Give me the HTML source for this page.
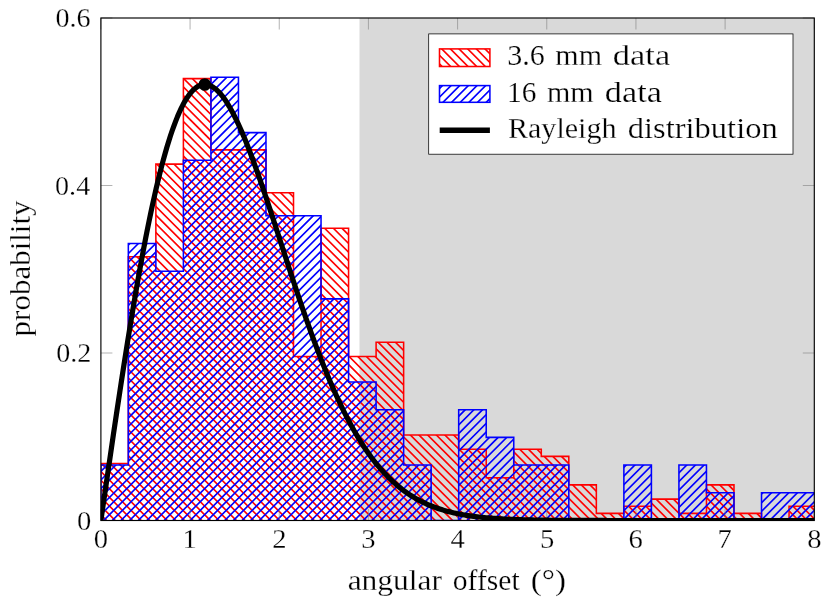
<!DOCTYPE html>
<html><head><meta charset="utf-8"><title>chart</title>
<style>html,body{margin:0;padding:0;background:#fff}svg{display:block;will-change:transform}text{font-family:"Liberation Serif",serif;fill:#000;stroke:#fff;stroke-width:0.25px}</style></head><body>
<svg width="831" height="607" viewBox="0 0 831 607">
<defs>
<clipPath id="cr"><path d="M100.80,520.50 L100.80,463.48 L128.33,463.48 L128.33,256.80 L155.86,256.80 L155.86,164.14 L183.39,164.14 L183.39,78.62 L210.92,78.62 L210.92,149.89 L238.45,149.89 L238.45,149.89 L265.98,149.89 L265.98,192.65 L293.51,192.65 L293.51,356.58 L321.04,356.58 L321.04,228.29 L348.57,228.29 L348.57,356.58 L376.10,356.58 L376.10,342.32 L403.63,342.32 L403.63,434.97 L431.16,434.97 L431.16,434.97 L458.69,434.97 L458.69,449.23 L486.22,449.23 L486.22,477.74 L513.75,477.74 L513.75,449.23 L541.28,449.23 L541.28,456.36 L568.81,456.36 L568.81,484.86 L596.34,484.86 L596.34,513.37 L623.87,513.37 L623.87,506.25 L651.40,506.25 L651.40,499.12 L678.93,499.12 L678.93,513.37 L706.46,513.37 L706.46,484.86 L733.99,484.86 L733.99,513.37 L761.52,513.37 L761.52,520.50 L789.05,520.50 L789.05,506.25 L816.58,506.25 L816.58,520.50Z"/></clipPath>
<clipPath id="cb"><path d="M100.80,520.50 L100.80,465.09 L128.33,465.09 L128.33,243.46 L155.86,243.46 L155.86,271.16 L183.39,271.16 L183.39,160.34 L210.92,160.34 L210.92,77.23 L238.45,77.23 L238.45,132.64 L265.98,132.64 L265.98,215.75 L293.51,215.75 L293.51,215.75 L321.04,215.75 L321.04,298.86 L348.57,298.86 L348.57,381.98 L376.10,381.98 L376.10,409.68 L403.63,409.68 L403.63,465.09 L431.16,465.09 L431.16,520.50 L458.69,520.50 L458.69,409.68 L486.22,409.68 L486.22,437.39 L513.75,437.39 L513.75,465.09 L541.28,465.09 L541.28,465.09 L568.81,465.09 L568.81,520.50 L596.34,520.50 L596.34,520.50 L623.87,520.50 L623.87,465.09 L651.40,465.09 L651.40,520.50 L678.93,520.50 L678.93,465.09 L706.46,465.09 L706.46,492.80 L733.99,492.80 L733.99,520.50 L761.52,520.50 L761.52,492.80 L789.05,492.80 L789.05,492.80 L816.58,492.80 L816.58,520.50Z"/></clipPath>
<clipPath id="cp"><rect x="100.90" y="18.00" width="713.40" height="502.50"/></clipPath>
</defs>
<rect width="831" height="607" fill="#fff"/>
<rect x="359.51" y="18.00" width="454.79" height="502.50" fill="#d9d9d9"/>
<g clip-path="url(#cp)">
<g clip-path="url(#cr)"><path d="M-406.55,16.00 L99.95,522.50 M-397.90,16.00 L108.60,522.50 M-389.25,16.00 L117.25,522.50 M-380.60,16.00 L125.90,522.50 M-371.95,16.00 L134.55,522.50 M-363.30,16.00 L143.20,522.50 M-354.65,16.00 L151.85,522.50 M-346.00,16.00 L160.50,522.50 M-337.35,16.00 L169.15,522.50 M-328.70,16.00 L177.80,522.50 M-320.05,16.00 L186.45,522.50 M-311.40,16.00 L195.10,522.50 M-302.75,16.00 L203.75,522.50 M-294.10,16.00 L212.40,522.50 M-285.45,16.00 L221.05,522.50 M-276.80,16.00 L229.70,522.50 M-268.15,16.00 L238.35,522.50 M-259.50,16.00 L247.00,522.50 M-250.85,16.00 L255.65,522.50 M-242.20,16.00 L264.30,522.50 M-233.55,16.00 L272.95,522.50 M-224.90,16.00 L281.60,522.50 M-216.25,16.00 L290.25,522.50 M-207.60,16.00 L298.90,522.50 M-198.95,16.00 L307.55,522.50 M-190.30,16.00 L316.20,522.50 M-181.65,16.00 L324.85,522.50 M-173.00,16.00 L333.50,522.50 M-164.35,16.00 L342.15,522.50 M-155.70,16.00 L350.80,522.50 M-147.05,16.00 L359.45,522.50 M-138.40,16.00 L368.10,522.50 M-129.75,16.00 L376.75,522.50 M-121.10,16.00 L385.40,522.50 M-112.45,16.00 L394.05,522.50 M-103.80,16.00 L402.70,522.50 M-95.15,16.00 L411.35,522.50 M-86.50,16.00 L420.00,522.50 M-77.85,16.00 L428.65,522.50 M-69.20,16.00 L437.30,522.50 M-60.55,16.00 L445.95,522.50 M-51.90,16.00 L454.60,522.50 M-43.25,16.00 L463.25,522.50 M-34.60,16.00 L471.90,522.50 M-25.95,16.00 L480.55,522.50 M-17.30,16.00 L489.20,522.50 M-8.65,16.00 L497.85,522.50 M-0.00,16.00 L506.50,522.50 M8.65,16.00 L515.15,522.50 M17.30,16.00 L523.80,522.50 M25.95,16.00 L532.45,522.50 M34.60,16.00 L541.10,522.50 M43.25,16.00 L549.75,522.50 M51.90,16.00 L558.40,522.50 M60.55,16.00 L567.05,522.50 M69.20,16.00 L575.70,522.50 M77.85,16.00 L584.35,522.50 M86.50,16.00 L593.00,522.50 M95.15,16.00 L601.65,522.50 M103.80,16.00 L610.30,522.50 M112.45,16.00 L618.95,522.50 M121.10,16.00 L627.60,522.50 M129.75,16.00 L636.25,522.50 M138.40,16.00 L644.90,522.50 M147.05,16.00 L653.55,522.50 M155.70,16.00 L662.20,522.50 M164.35,16.00 L670.85,522.50 M173.00,16.00 L679.50,522.50 M181.65,16.00 L688.15,522.50 M190.30,16.00 L696.80,522.50 M198.95,16.00 L705.45,522.50 M207.60,16.00 L714.10,522.50 M216.25,16.00 L722.75,522.50 M224.90,16.00 L731.40,522.50 M233.55,16.00 L740.05,522.50 M242.20,16.00 L748.70,522.50 M250.85,16.00 L757.35,522.50 M259.50,16.00 L766.00,522.50 M268.15,16.00 L774.65,522.50 M276.80,16.00 L783.30,522.50 M285.45,16.00 L791.95,522.50 M294.10,16.00 L800.60,522.50 M302.75,16.00 L809.25,522.50 M311.40,16.00 L817.90,522.50 M320.05,16.00 L826.55,522.50 M328.70,16.00 L835.20,522.50 M337.35,16.00 L843.85,522.50 M346.00,16.00 L852.50,522.50 M354.65,16.00 L861.15,522.50 M363.30,16.00 L869.80,522.50 M371.95,16.00 L878.45,522.50 M380.60,16.00 L887.10,522.50 M389.25,16.00 L895.75,522.50 M397.90,16.00 L904.40,522.50 M406.55,16.00 L913.05,522.50 M415.20,16.00 L921.70,522.50 M423.85,16.00 L930.35,522.50 M432.50,16.00 L939.00,522.50 M441.15,16.00 L947.65,522.50 M449.80,16.00 L956.30,522.50 M458.45,16.00 L964.95,522.50 M467.10,16.00 L973.60,522.50 M475.75,16.00 L982.25,522.50 M484.40,16.00 L990.90,522.50 M493.05,16.00 L999.55,522.50 M501.70,16.00 L1008.20,522.50 M510.35,16.00 L1016.85,522.50 M519.00,16.00 L1025.50,522.50 M527.65,16.00 L1034.15,522.50 M536.30,16.00 L1042.80,522.50 M544.95,16.00 L1051.45,522.50 M553.60,16.00 L1060.10,522.50 M562.25,16.00 L1068.75,522.50 M570.90,16.00 L1077.40,522.50 M579.55,16.00 L1086.05,522.50 M588.20,16.00 L1094.70,522.50 M596.85,16.00 L1103.35,522.50 M605.50,16.00 L1112.00,522.50 M614.15,16.00 L1120.65,522.50 M622.80,16.00 L1129.30,522.50 M631.45,16.00 L1137.95,522.50 M640.10,16.00 L1146.60,522.50 M648.75,16.00 L1155.25,522.50 M657.40,16.00 L1163.90,522.50 M666.05,16.00 L1172.55,522.50 M674.70,16.00 L1181.20,522.50 M683.35,16.00 L1189.85,522.50 M692.00,16.00 L1198.50,522.50 M700.65,16.00 L1207.15,522.50 M709.30,16.00 L1215.80,522.50 M717.95,16.00 L1224.45,522.50 M726.60,16.00 L1233.10,522.50 M735.25,16.00 L1241.75,522.50 M743.90,16.00 L1250.40,522.50 M752.55,16.00 L1259.05,522.50 M761.20,16.00 L1267.70,522.50 M769.85,16.00 L1276.35,522.50 M778.50,16.00 L1285.00,522.50 M787.15,16.00 L1293.65,522.50 M795.80,16.00 L1302.30,522.50 M804.45,16.00 L1310.95,522.50 M813.10,16.00 L1319.60,522.50" stroke="#ff0000" stroke-width="1.65" fill="none"/></g>
<path d="M100.80,520.50 L100.80,463.48 L128.33,463.48 L128.33,256.80 L155.86,256.80 L155.86,164.14 L183.39,164.14 L183.39,78.62 L210.92,78.62 L210.92,149.89 L238.45,149.89 L238.45,149.89 L265.98,149.89 L265.98,192.65 L293.51,192.65 L293.51,356.58 L321.04,356.58 L321.04,228.29 L348.57,228.29 L348.57,356.58 L376.10,356.58 L376.10,342.32 L403.63,342.32 L403.63,434.97 L431.16,434.97 L431.16,434.97 L458.69,434.97 L458.69,449.23 L486.22,449.23 L486.22,477.74 L513.75,477.74 L513.75,449.23 L541.28,449.23 L541.28,456.36 L568.81,456.36 L568.81,484.86 L596.34,484.86 L596.34,513.37 L623.87,513.37 L623.87,506.25 L651.40,506.25 L651.40,499.12 L678.93,499.12 L678.93,513.37 L706.46,513.37 L706.46,484.86 L733.99,484.86 L733.99,513.37 L761.52,513.37 L761.52,520.50 L789.05,520.50 L789.05,506.25 L816.58,506.25 L816.58,520.50" fill="none" stroke="#ff0000" stroke-width="1.55" stroke-linejoin="miter"/>
<g clip-path="url(#cb)"><path d="M97.78,16.00 L-408.72,522.50 M106.43,16.00 L-400.07,522.50 M115.08,16.00 L-391.42,522.50 M123.73,16.00 L-382.77,522.50 M132.38,16.00 L-374.12,522.50 M141.03,16.00 L-365.47,522.50 M149.68,16.00 L-356.82,522.50 M158.33,16.00 L-348.17,522.50 M166.98,16.00 L-339.52,522.50 M175.63,16.00 L-330.87,522.50 M184.28,16.00 L-322.22,522.50 M192.93,16.00 L-313.57,522.50 M201.58,16.00 L-304.92,522.50 M210.23,16.00 L-296.27,522.50 M218.88,16.00 L-287.62,522.50 M227.53,16.00 L-278.97,522.50 M236.18,16.00 L-270.32,522.50 M244.83,16.00 L-261.67,522.50 M253.48,16.00 L-253.02,522.50 M262.13,16.00 L-244.37,522.50 M270.78,16.00 L-235.72,522.50 M279.43,16.00 L-227.07,522.50 M288.08,16.00 L-218.42,522.50 M296.73,16.00 L-209.77,522.50 M305.38,16.00 L-201.12,522.50 M314.03,16.00 L-192.47,522.50 M322.68,16.00 L-183.82,522.50 M331.33,16.00 L-175.17,522.50 M339.98,16.00 L-166.52,522.50 M348.63,16.00 L-157.87,522.50 M357.28,16.00 L-149.22,522.50 M365.93,16.00 L-140.57,522.50 M374.58,16.00 L-131.92,522.50 M383.23,16.00 L-123.27,522.50 M391.88,16.00 L-114.62,522.50 M400.53,16.00 L-105.97,522.50 M409.18,16.00 L-97.32,522.50 M417.83,16.00 L-88.67,522.50 M426.48,16.00 L-80.02,522.50 M435.13,16.00 L-71.37,522.50 M443.78,16.00 L-62.72,522.50 M452.43,16.00 L-54.07,522.50 M461.08,16.00 L-45.42,522.50 M469.73,16.00 L-36.77,522.50 M478.38,16.00 L-28.12,522.50 M487.03,16.00 L-19.47,522.50 M495.68,16.00 L-10.82,522.50 M504.33,16.00 L-2.17,522.50 M512.98,16.00 L6.48,522.50 M521.63,16.00 L15.13,522.50 M530.28,16.00 L23.78,522.50 M538.93,16.00 L32.43,522.50 M547.58,16.00 L41.08,522.50 M556.23,16.00 L49.73,522.50 M564.88,16.00 L58.38,522.50 M573.53,16.00 L67.03,522.50 M582.18,16.00 L75.68,522.50 M590.83,16.00 L84.33,522.50 M599.48,16.00 L92.98,522.50 M608.13,16.00 L101.63,522.50 M616.78,16.00 L110.28,522.50 M625.43,16.00 L118.93,522.50 M634.08,16.00 L127.58,522.50 M642.73,16.00 L136.23,522.50 M651.38,16.00 L144.88,522.50 M660.03,16.00 L153.53,522.50 M668.68,16.00 L162.18,522.50 M677.33,16.00 L170.83,522.50 M685.98,16.00 L179.48,522.50 M694.63,16.00 L188.13,522.50 M703.28,16.00 L196.78,522.50 M711.93,16.00 L205.43,522.50 M720.58,16.00 L214.08,522.50 M729.23,16.00 L222.73,522.50 M737.88,16.00 L231.38,522.50 M746.53,16.00 L240.03,522.50 M755.18,16.00 L248.68,522.50 M763.83,16.00 L257.33,522.50 M772.48,16.00 L265.98,522.50 M781.13,16.00 L274.63,522.50 M789.78,16.00 L283.28,522.50 M798.43,16.00 L291.93,522.50 M807.08,16.00 L300.58,522.50 M815.73,16.00 L309.23,522.50 M824.38,16.00 L317.88,522.50 M833.03,16.00 L326.53,522.50 M841.68,16.00 L335.18,522.50 M850.33,16.00 L343.83,522.50 M858.98,16.00 L352.48,522.50 M867.63,16.00 L361.13,522.50 M876.28,16.00 L369.78,522.50 M884.93,16.00 L378.43,522.50 M893.58,16.00 L387.08,522.50 M902.23,16.00 L395.73,522.50 M910.88,16.00 L404.38,522.50 M919.53,16.00 L413.03,522.50 M928.18,16.00 L421.68,522.50 M936.83,16.00 L430.33,522.50 M945.48,16.00 L438.98,522.50 M954.13,16.00 L447.63,522.50 M962.78,16.00 L456.28,522.50 M971.43,16.00 L464.93,522.50 M980.08,16.00 L473.58,522.50 M988.73,16.00 L482.23,522.50 M997.38,16.00 L490.88,522.50 M1006.03,16.00 L499.53,522.50 M1014.68,16.00 L508.18,522.50 M1023.33,16.00 L516.83,522.50 M1031.98,16.00 L525.48,522.50 M1040.63,16.00 L534.13,522.50 M1049.28,16.00 L542.78,522.50 M1057.93,16.00 L551.43,522.50 M1066.58,16.00 L560.08,522.50 M1075.23,16.00 L568.73,522.50 M1083.88,16.00 L577.38,522.50 M1092.53,16.00 L586.03,522.50 M1101.18,16.00 L594.68,522.50 M1109.83,16.00 L603.33,522.50 M1118.48,16.00 L611.98,522.50 M1127.13,16.00 L620.63,522.50 M1135.78,16.00 L629.28,522.50 M1144.43,16.00 L637.93,522.50 M1153.08,16.00 L646.58,522.50 M1161.73,16.00 L655.23,522.50 M1170.38,16.00 L663.88,522.50 M1179.03,16.00 L672.53,522.50 M1187.68,16.00 L681.18,522.50 M1196.33,16.00 L689.83,522.50 M1204.98,16.00 L698.48,522.50 M1213.63,16.00 L707.13,522.50 M1222.28,16.00 L715.78,522.50 M1230.93,16.00 L724.43,522.50 M1239.58,16.00 L733.08,522.50 M1248.23,16.00 L741.73,522.50 M1256.88,16.00 L750.38,522.50 M1265.53,16.00 L759.03,522.50 M1274.18,16.00 L767.68,522.50 M1282.83,16.00 L776.33,522.50 M1291.48,16.00 L784.98,522.50 M1300.13,16.00 L793.63,522.50 M1308.78,16.00 L802.28,522.50 M1317.43,16.00 L810.93,522.50 M1326.08,16.00 L819.58,522.50" stroke="#0000ff" stroke-width="1.65" fill="none"/></g>
<path d="M100.80,520.50 L100.80,465.09 L128.33,465.09 L128.33,243.46 L155.86,243.46 L155.86,271.16 L183.39,271.16 L183.39,160.34 L210.92,160.34 L210.92,77.23 L238.45,77.23 L238.45,132.64 L265.98,132.64 L265.98,215.75 L293.51,215.75 L293.51,215.75 L321.04,215.75 L321.04,298.86 L348.57,298.86 L348.57,381.98 L376.10,381.98 L376.10,409.68 L403.63,409.68 L403.63,465.09 L431.16,465.09 L431.16,520.50 L458.69,520.50 L458.69,409.68 L486.22,409.68 L486.22,437.39 L513.75,437.39 L513.75,465.09 L541.28,465.09 L541.28,465.09 L568.81,465.09 L568.81,520.50 L596.34,520.50 L596.34,520.50 L623.87,520.50 L623.87,465.09 L651.40,465.09 L651.40,520.50 L678.93,520.50 L678.93,465.09 L706.46,465.09 L706.46,492.80 L733.99,492.80 L733.99,520.50 L761.52,520.50 L761.52,492.80 L789.05,492.80 L789.05,492.80 L816.58,492.80 L816.58,520.50" fill="none" stroke="#0000ff" stroke-width="1.55" stroke-linejoin="miter"/>
</g>
<path d="M100.90,520.50 v-11.50 M100.90,18.00 v11.50 M190.07,520.50 v-11.50 M190.07,18.00 v11.50 M279.25,520.50 v-11.50 M279.25,18.00 v11.50 M368.42,520.50 v-11.50 M368.42,18.00 v11.50 M457.60,520.50 v-11.50 M457.60,18.00 v11.50 M546.77,520.50 v-11.50 M546.77,18.00 v11.50 M635.95,520.50 v-11.50 M635.95,18.00 v11.50 M725.12,520.50 v-11.50 M725.12,18.00 v11.50 M814.30,520.50 v-11.50 M814.30,18.00 v11.50 M100.90,520.50 h11.50 M814.30,520.50 h-11.50 M100.90,353.00 h11.50 M814.30,353.00 h-11.50 M100.90,185.50 h11.50 M814.30,185.50 h-11.50 M100.90,18.00 h11.50 M814.30,18.00 h-11.50" stroke="#808080" stroke-width="0.6" fill="none"/>
<g clip-path="url(#cp)">
<path d="M100.90,520.50 L102.68,508.16 L104.47,495.83 L106.25,483.52 L108.03,471.25 L109.82,459.02 L111.60,446.84 L113.38,434.73 L115.17,422.70 L116.95,410.75 L118.74,398.89 L120.52,387.14 L122.30,375.51 L124.09,364.01 L125.87,352.64 L127.65,341.42 L129.44,330.35 L131.22,319.44 L133.00,308.71 L134.79,298.16 L136.57,287.80 L138.35,277.64 L140.14,267.68 L141.92,257.94 L143.70,248.41 L145.49,239.11 L147.27,230.05 L149.05,221.22 L150.84,212.64 L152.62,204.32 L154.41,196.25 L156.19,188.43 L157.97,180.89 L159.76,173.62 L161.54,166.62 L163.32,159.89 L165.11,153.45 L166.89,147.29 L168.67,141.42 L170.46,135.83 L172.24,130.53 L174.02,125.53 L175.81,120.81 L177.59,116.39 L179.37,112.26 L181.16,108.42 L182.94,104.87 L184.72,101.62 L186.51,98.65 L188.29,95.98 L190.07,93.59 L191.86,91.48 L193.64,89.66 L195.43,88.12 L197.21,86.85 L198.99,85.86 L200.78,85.13 L202.56,84.68 L204.34,84.48 L206.13,84.55 L207.91,84.86 L209.69,85.43 L211.48,86.24 L213.26,87.29 L215.04,88.57 L216.83,90.09 L218.61,91.82 L220.39,93.77 L222.18,95.93 L223.96,98.30 L225.75,100.86 L227.53,103.62 L229.31,106.56 L231.10,109.69 L232.88,112.98 L234.66,116.45 L236.45,120.07 L238.23,123.84 L240.01,127.77 L241.80,131.83 L243.58,136.02 L245.36,140.34 L247.15,144.79 L248.93,149.34 L250.71,154.00 L252.50,158.76 L254.28,163.61 L256.06,168.55 L257.85,173.56 L259.63,178.65 L261.41,183.81 L263.20,189.03 L264.98,194.31 L266.77,199.63 L268.55,204.99 L270.33,210.39 L272.12,215.83 L273.90,221.29 L275.68,226.76 L277.47,232.26 L279.25,237.76 L281.03,243.27 L282.82,248.77 L284.60,254.27 L286.38,259.76 L288.17,265.24 L289.95,270.70 L291.73,276.13 L293.52,281.54 L295.30,286.92 L297.09,292.26 L298.87,297.57 L300.65,302.83 L302.44,308.05 L304.22,313.22 L306.00,318.34 L307.79,323.41 L309.57,328.42 L311.35,333.37 L313.14,338.26 L314.92,343.09 L316.70,347.85 L318.49,352.55 L320.27,357.18 L322.05,361.73 L323.84,366.22 L325.62,370.63 L327.40,374.97 L329.19,379.23 L330.97,383.42 L332.75,387.53 L334.54,391.56 L336.32,395.52 L338.11,399.39 L339.89,403.19 L341.67,406.91 L343.46,410.55 L345.24,414.11 L347.02,417.59 L348.81,420.99 L350.59,424.31 L352.37,427.55 L354.16,430.71 L355.94,433.80 L357.72,436.81 L359.51,439.74 L361.29,442.60 L363.07,445.38 L364.86,448.09 L366.64,450.72 L368.42,453.28 L370.21,455.77 L371.99,458.18 L373.78,460.53 L375.56,462.81 L377.34,465.02 L379.13,467.16 L380.91,469.24 L382.69,471.25 L384.48,473.20 L386.26,475.09 L388.04,476.92 L389.83,478.69 L391.61,480.39 L393.39,482.05 L395.18,483.64 L396.96,485.19 L398.74,486.67 L400.53,488.11 L402.31,489.50 L404.10,490.83 L405.88,492.12 L407.66,493.36 L409.45,494.56 L411.23,495.71 L413.01,496.81 L414.80,497.88 L416.58,498.90 L418.36,499.89 L420.15,500.84 L421.93,501.74 L423.71,502.62 L425.50,503.46 L427.28,504.26 L429.06,505.03 L430.85,505.77 L432.63,506.48 L434.41,507.16 L436.20,507.81 L437.98,508.43 L439.76,509.02 L441.55,509.59 L443.33,510.14 L445.12,510.66 L446.90,511.16 L448.68,511.63 L450.47,512.08 L452.25,512.52 L454.03,512.93 L455.82,513.32 L457.60,513.70 L459.38,514.06 L461.17,514.40 L462.95,514.72 L464.73,515.03 L466.52,515.33 L468.30,515.61 L470.08,515.88 L471.87,516.13 L473.65,516.37 L475.44,516.60 L477.22,516.82 L479.00,517.02 L480.79,517.22 L482.57,517.40 L484.35,517.58 L486.14,517.75 L487.92,517.90 L489.70,518.05 L491.49,518.20 L493.27,518.33 L495.05,518.46 L496.84,518.58 L498.62,518.69 L500.40,518.80 L502.19,518.90 L503.97,519.00 L505.75,519.09 L507.54,519.17 L509.32,519.26 L511.10,519.33 L512.89,519.40 L514.67,519.47 L516.46,519.54 L518.24,519.60 L520.02,519.65 L521.81,519.71 L523.59,519.76 L525.37,519.80 L527.16,519.85 L528.94,519.89 L530.72,519.93 L532.51,519.97 L534.29,520.00 L536.07,520.03 L537.86,520.06 L539.64,520.09 L541.42,520.12 L543.21,520.15 L544.99,520.17 L546.77,520.19 L548.56,520.21 L550.34,520.23 L552.13,520.25 L553.91,520.27 L555.69,520.28 L557.48,520.30 L559.26,520.31 L561.04,520.32 L562.83,520.34 L564.61,520.35 L566.39,520.36 L568.18,520.37 L569.96,520.38 L571.74,520.39 L573.53,520.40 L575.31,520.40 L577.09,520.41 L578.88,520.42 L580.66,520.42 L582.45,520.43 L584.23,520.43 L586.01,520.44 L587.80,520.44 L589.58,520.45 L591.36,520.45 L593.15,520.45 L594.93,520.46 L596.71,520.46 L598.50,520.46 L600.28,520.47 L602.06,520.47 L603.85,520.47 L605.63,520.47 L607.41,520.48 L609.20,520.48 L610.98,520.48 L612.76,520.48 L614.55,520.48 L616.33,520.48 L618.11,520.49 L619.90,520.49 L621.68,520.49 L623.47,520.49 L625.25,520.49 L627.03,520.49 L628.82,520.49 L630.60,520.49 L632.38,520.49 L634.17,520.49 L635.95,520.49 L637.73,520.49 L639.52,520.49 L641.30,520.50 L643.08,520.50 L644.87,520.50 L646.65,520.50 L648.43,520.50 L650.22,520.50 L652.00,520.50 L653.78,520.50 L655.57,520.50 L657.35,520.50 L659.14,520.50 L660.92,520.50 L662.70,520.50 L664.49,520.50 L666.27,520.50 L668.05,520.50 L669.84,520.50 L671.62,520.50 L673.40,520.50 L675.19,520.50 L676.97,520.50 L678.75,520.50 L680.54,520.50 L682.32,520.50 L684.10,520.50 L685.89,520.50 L687.67,520.50 L689.45,520.50 L691.24,520.50 L693.02,520.50 L694.81,520.50 L696.59,520.50 L698.37,520.50 L700.16,520.50 L701.94,520.50 L703.72,520.50 L705.51,520.50 L707.29,520.50 L709.07,520.50 L710.86,520.50 L712.64,520.50 L714.42,520.50 L716.21,520.50 L717.99,520.50 L719.77,520.50 L721.56,520.50 L723.34,520.50 L725.12,520.50 L726.91,520.50 L728.69,520.50 L730.48,520.50 L732.26,520.50 L734.04,520.50 L735.83,520.50 L737.61,520.50 L739.39,520.50 L741.18,520.50 L742.96,520.50 L744.74,520.50 L746.53,520.50 L748.31,520.50 L750.09,520.50 L751.88,520.50 L753.66,520.50 L755.44,520.50 L757.23,520.50 L759.01,520.50 L760.79,520.50 L762.58,520.50 L764.36,520.50 L766.15,520.50 L767.93,520.50 L769.71,520.50 L771.50,520.50 L773.28,520.50 L775.06,520.50 L776.85,520.50 L778.63,520.50 L780.41,520.50 L782.20,520.50 L783.98,520.50 L785.76,520.50 L787.55,520.50 L789.33,520.50 L791.11,520.50 L792.90,520.50 L794.68,520.50 L796.46,520.50 L798.25,520.50 L800.03,520.50 L801.82,520.50 L803.60,520.50 L805.38,520.50 L807.17,520.50 L808.95,520.50 L810.73,520.50 L812.52,520.50 L814.30,520.50" fill="none" stroke="#000" stroke-width="5.2" stroke-linejoin="round"/>
</g>
<circle cx="204.79" cy="84.47" r="6.3" fill="#000"/>
<rect x="100.90" y="18.00" width="713.40" height="502.50" fill="none" stroke="#000" stroke-width="1.15"/>
<rect x="428.7" y="33.9" width="364.3" height="120.3" fill="#fff" stroke="#000" stroke-width="0.75"/>
<clipPath id="c1"><rect x="439.5" y="48.9" width="50.4" height="17.6"/></clipPath><g clip-path="url(#c1)"><path d="M413.80,46.90 L435.40,68.50 M422.45,46.90 L444.05,68.50 M431.10,46.90 L452.70,68.50 M439.75,46.90 L461.35,68.50 M448.40,46.90 L470.00,68.50 M457.05,46.90 L478.65,68.50 M465.70,46.90 L487.30,68.50 M474.35,46.90 L495.95,68.50 M483.00,46.90 L504.60,68.50 M491.65,46.90 L513.25,68.50" stroke="#ff0000" stroke-width="1.65" fill="none"/></g>
<rect x="439.5" y="48.9" width="50.4" height="17.6" fill="none" stroke="#ff0000" stroke-width="1.55"/>
<clipPath id="c2"><rect x="439.5" y="85.6" width="50.4" height="16.7"/></clipPath><g clip-path="url(#c2)"><path d="M435.73,83.60 L415.03,104.30 M444.38,83.60 L423.68,104.30 M453.03,83.60 L432.33,104.30 M461.68,83.60 L440.98,104.30 M470.33,83.60 L449.63,104.30 M478.98,83.60 L458.28,104.30 M487.63,83.60 L466.93,104.30 M496.28,83.60 L475.58,104.30 M504.93,83.60 L484.23,104.30 M513.58,83.60 L492.88,104.30" stroke="#0000ff" stroke-width="1.65" fill="none"/></g>
<rect x="439.5" y="85.6" width="50.4" height="16.7" fill="none" stroke="#0000ff" stroke-width="1.55"/>
<path d="M439.7,130.3 H489.9" stroke="#000" stroke-width="5.4"/>
<text transform="translate(507.20,65.40) scale(1.0195,1)" font-size="29.5">3.6</text>
<text transform="translate(555.36,65.40) scale(1.0184,1)" font-size="29.5">mm</text>
<text transform="translate(612.83,65.40) scale(1.1686,1)" font-size="29.5">data</text>
<text transform="translate(507.01,102.00) scale(0.9952,1)" font-size="29.5">16</text>
<text transform="translate(546.96,102.00) scale(1.0184,1)" font-size="29.5">mm</text>
<text transform="translate(604.84,102.00) scale(1.1602,1)" font-size="29.5">data</text>
<text transform="translate(507.93,138.10) scale(1.0202,1)" font-size="29.5">Rayleigh</text>
<text transform="translate(627.80,138.10) scale(1.1023,1)" font-size="29.5">distribution</text>
<text transform="translate(347.63,589.70) scale(1.0682,1)" font-size="29.5">angular</text>
<text transform="translate(452.77,589.70) scale(1.0034,1)" font-size="29.5">offset</text>
<text transform="translate(530.80,589.70) scale(1.1207,1)" font-size="29.5">(°)</text>
<text transform="translate(29.7,336.39) rotate(-90) scale(1.0504,1)" font-size="29.5">probability</text>
<text transform="translate(93.75,548.30) scale(1.0600,1)" font-size="27">0</text>
<text transform="translate(182.52,548.30) scale(1.0600,1)" font-size="27">1</text>
<text transform="translate(272.23,548.30) scale(1.0600,1)" font-size="27">2</text>
<text transform="translate(361.14,548.30) scale(1.0600,1)" font-size="27">3</text>
<text transform="translate(450.38,548.30) scale(1.0600,1)" font-size="27">4</text>
<text transform="translate(539.96,548.30) scale(1.0600,1)" font-size="27">5</text>
<text transform="translate(628.60,548.30) scale(1.0600,1)" font-size="27">6</text>
<text transform="translate(717.44,548.30) scale(1.0600,1)" font-size="27">7</text>
<text transform="translate(807.14,548.30) scale(1.0600,1)" font-size="27">8</text>
<text transform="translate(76.95,529.60) scale(1.0600,1)" font-size="27">0</text>
<text transform="translate(56.13,362.10) scale(1.0400,1)" font-size="27">0.2</text>
<text transform="translate(55.09,194.60) scale(1.0400,1)" font-size="27">0.4</text>
<text transform="translate(55.48,27.10) scale(1.0400,1)" font-size="27">0.6</text>
</svg></body></html>
